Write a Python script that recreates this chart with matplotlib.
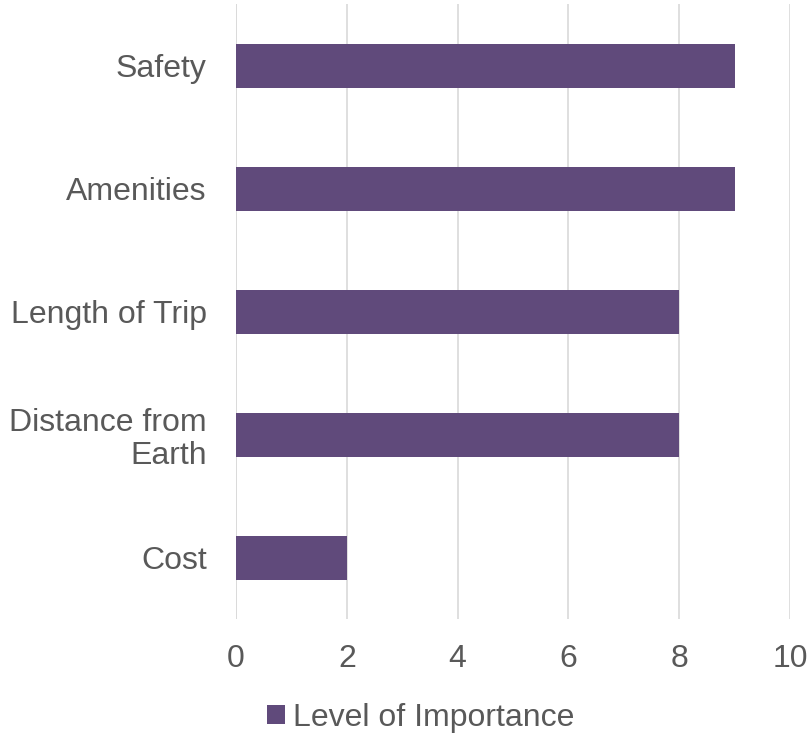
import matplotlib.pyplot as plt
from matplotlib.patches import Patch

plt.rcParams['font.family'] = ['Liberation Sans', 'DejaVu Sans']

# factors, bottom to top as they appear on the chart
factors = ["Cost", "Distance from\nEarth", "Length of Trip", "Amenities", "Safety"]
importance = [2, 8, 8, 9, 9]
xticks = [0, 2, 4, 6, 8, 10]

bar_color = "#604A7B"
text_color = "#595959"
grid_color = "#D9D9D9"

fig = plt.figure(figsize=(8.09, 7.34), dpi=100)
ax = fig.add_axes([0.2917, 0.156, 0.685, 0.838])

ypos = list(range(len(factors)))
ax.barh(ypos, importance, height=0.36, color=bar_color, zorder=3)

ax.set_xlim(0, 10)
ax.set_ylim(-0.5, len(factors) - 0.5)
ax.set_xticks(xticks)
ax.set_xticklabels([str(t) for t in xticks])
ax.set_yticks(ypos)
ax.set_yticklabels(factors)
for lbl in ax.get_yticklabels():
    lbl.set_multialignment("right")
    lbl.set_linespacing(1.1)

ax.grid(axis="x", color=grid_color, linewidth=1.2, zorder=0)
ax.axvline(0, color=grid_color, linewidth=1.2, zorder=1)
for s in ax.spines.values():
    s.set_visible(False)
ax.tick_params(axis="both", length=0, labelsize=23, colors=text_color)
ax.tick_params(axis="x", pad=17.5)
ax.tick_params(axis="y", pad=21)

handles = [Patch(facecolor=bar_color, label="Level of Importance")]
fig.legend(handles=handles, loc="center", bbox_to_anchor=(0.52, 0.022),
           frameon=False, fontsize=23, labelcolor=text_color,
           handlelength=0.55, handleheight=0.55, handletextpad=0.25)

fig.savefig("out.png", dpi=100)
